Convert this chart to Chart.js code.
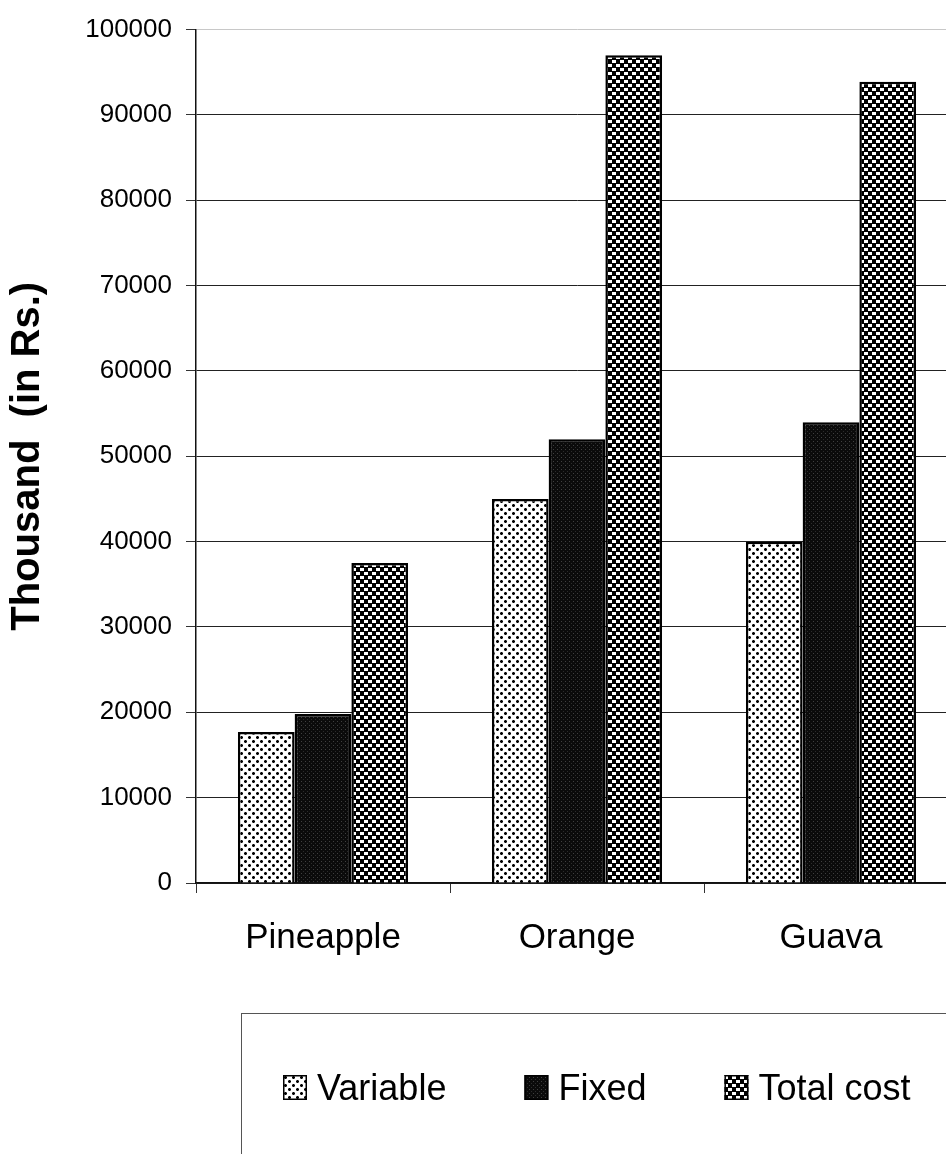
<!DOCTYPE html>
<html>
<head>
<meta charset="utf-8">
<script src="https://cdn.jsdelivr.net/npm/chart.js@4/dist/chart.umd.min.js"></script>
<style>
  html, body { margin: 0; padding: 0; background: #fff; overflow: hidden; }
  #wrap { width: 946px; height: 1154px; overflow: hidden; position: relative; background: #fff; }
  canvas { display: block; }
</style>
</head>
<body>
<div id="wrap"><canvas id="costChart" width="962" height="1154"></canvas></div>
<script>
// Cost components per fruit crop (thousand rupees)
const categories = ['Pineapple', 'Orange', 'Guava'];
const seriesNames = ['Variable', 'Fixed', 'Total cost'];
const variableCost = [17700, 45000, 40000];
const fixedCost = [19800, 52000, 54000];
const totalCost = [37500, 97000, 93900];
const yTickValues = [0, 10000, 20000, 30000, 40000, 50000, 60000, 70000, 80000, 90000, 100000];
const yAxisTitle = 'Thousand  (in Rs.)';

const FONT = '"Liberation Sans", Arial, Helvetica, sans-serif';

const canvas = document.getElementById('costChart');
const ctx = canvas.getContext('2d');

// Fill patterns for the three series
function makePattern(size, paint) {
  const tile = document.createElement('canvas');
  tile.width = size; tile.height = size;
  const g = tile.getContext('2d');
  paint(g, size);
  return ctx.createPattern(tile, 'repeat');
}

// white ground with offset rows of black dots
const dotPattern = makePattern(8, (g, s) => {
  g.fillStyle = '#fff'; g.fillRect(0, 0, s, s);
  const dot = (x, y) => {
    g.fillStyle = '#000';
    g.fillRect(x, y, 3, 3);
    g.fillStyle = '#777';
    g.fillRect(x, y, 1, 1); g.fillRect(x + 2, y, 1, 1);
    g.fillRect(x, y + 2, 1, 1); g.fillRect(x + 2, y + 2, 1, 1);
  };
  dot(0, 0);
  dot(4, 4);
});

// near-black with faint speckle
const darkPattern = makePattern(4, (g, s) => {
  g.fillStyle = '#0b0b0b'; g.fillRect(0, 0, s, s);
  g.fillStyle = '#404040'; g.fillRect(1, 1, 1, 1);
  g.fillStyle = '#2c2c2c'; g.fillRect(3, 3, 1, 1);
});

// black/white checkerboard
const checkPattern = makePattern(8, (g, s) => {
  g.fillStyle = '#000'; g.fillRect(0, 0, s, s);
  g.fillStyle = '#fff';
  g.fillRect(0, 0, 4, 3);
  g.fillRect(4, 4, 4, 3);
});

// Boxed legend below the plot
const boxedLegend = {
  id: 'boxedLegend',
  afterDraw(chart) {
    const c = chart.ctx;
    c.save();
    c.strokeStyle = '#555';
    c.lineWidth = 1;
    c.strokeRect(241.5, 1013.5, 1000, 400);
    c.font = '36px ' + FONT;
    c.textBaseline = 'alphabetic';
    c.textAlign = 'left';
    let x = 283;
    const base = 1100;
    chart.data.datasets.forEach(ds => {
      c.fillStyle = ds.backgroundColor;
      c.fillRect(x, base - 25, 24, 25);
      c.strokeStyle = '#000';
      c.lineWidth = 1.5;
      c.strokeRect(x + 0.75, base - 24.25, 22.5, 23.5);
      c.fillStyle = '#000';
      c.fillText(ds.label, x + 34, base);
      x += 34 + c.measureText(ds.label).width + 78;
    });
    c.restore();
  }
};

new Chart(canvas, {
  type: 'bar',
  data: {
    labels: categories,
    datasets: [
      { label: seriesNames[0], data: variableCost, backgroundColor: dotPattern },
      { label: seriesNames[1], data: fixedCost, backgroundColor: darkPattern },
      { label: seriesNames[2], data: totalCost, backgroundColor: checkPattern }
    ]
  },
  options: {
    responsive: false,
    animation: false,
    devicePixelRatio: 1,
    layout: { padding: { left: 0, top: 24, right: 4, bottom: 191 } },
    datasets: {
      bar: {
        categoryPercentage: 0.67,
        barPercentage: 1.0,
        borderColor: '#000',
        borderWidth: 2.5
      }
    },
    plugins: {
      legend: { display: false },
      tooltip: { enabled: false }
    },
    scales: {
      x: {
        afterFit(scale) { scale.height = 80; },
        grid: {
          display: true,
          drawOnChartArea: false,
          drawTicks: true,
          tickLength: 10,
          tickColor: '#333',
          offset: true
        },
        border: { display: true, color: '#111', width: 1.5 },
        ticks: {
          color: '#000',
          padding: 24,
          font: { family: FONT, size: 35 }
        }
      },
      y: {
        min: 0,
        max: 100000,
        afterFit(scale) { scale.width = 196; },
        afterBuildTicks(scale) { scale.ticks = yTickValues.map(v => ({ value: v })); },
        grid: {
          color: ctx => (ctx.tick && ctx.tick.value === 100000) ? '#c8c8c8' : '#222',
          lineWidth: 1,
          tickLength: 10,
          tickColor: '#333'
        },
        border: { display: true, color: '#111', width: 1.5 },
        ticks: {
          color: '#000',
          padding: 14,
          font: { family: FONT, size: 26 },
          callback: v => String(v)
        },
        title: {
          display: true,
          text: yAxisTitle,
          color: '#000',
          padding: { top: 4, bottom: 0 },
          font: { family: FONT, size: 40, weight: 'bold' }
        }
      }
    }
  },
  plugins: [boxedLegend]
});
</script>
</body>
</html>
